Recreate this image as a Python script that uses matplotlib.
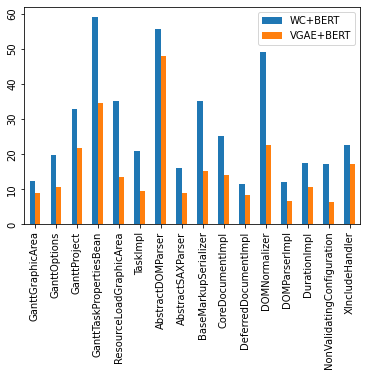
import matplotlib
matplotlib.use("Agg")
import matplotlib.pyplot as plt
import numpy as np

categories = ["GanttGraphicArea", "GanttOptions", "GanttProject", "GanttTaskPropertiesBean",
              "ResourceLoadGraphicArea", "TaskImpl", "AbstractDOMParser", "AbstractSAXParser",
              "BaseMarkupSerializer", "CoreDocumentImpl", "DeferredDocumentImpl", "DOMNormalizer",
              "DOMParserImpl", "DurationImpl", "NonValidatingConfiguration", "XIncludeHandler"]
wc_bert = [12.5, 19.9, 32.8, 59.0, 35.0, 20.8, 55.6, 16.0, 35.0, 25.1, 11.4, 49.0, 12.0, 17.4, 17.1, 22.5]
vgae_bert = [8.9, 10.8, 21.7, 34.5, 13.4, 9.4, 47.9, 8.9, 15.1, 14.0, 8.3, 22.5, 6.8, 10.8, 6.3, 17.1]

fig = plt.figure(figsize=(366/72, 376/72), dpi=72)
ax = fig.add_axes([0.0664, 0.403, 0.9836-0.0664, 0.982-0.403])
x = np.arange(len(categories))
w = 0.25
ax.bar(x - w/2, wc_bert, w, color="#1f77b4", label="WC+BERT")
ax.bar(x + w/2, vgae_bert, w, color="#ff7f0e", label="VGAE+BERT")
ax.set_xticks(x)
ax.set_xticklabels(categories, rotation=90)
ax.set_xlim(-0.5, len(categories) - 0.5)
ax.set_yticks([0, 10, 20, 30, 40, 50, 60])
ax.tick_params(axis='y', labelrotation=90)
for lab in ax.get_yticklabels():
    lab.set_va('center')
ax.legend(loc="upper right")
fig.savefig("out.png", dpi=72)
